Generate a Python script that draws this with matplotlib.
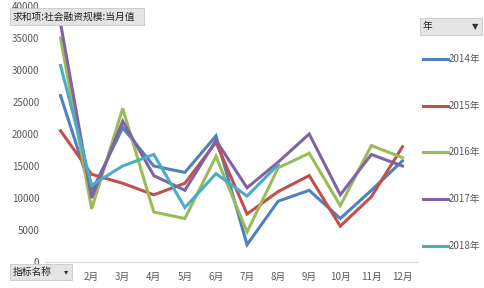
import matplotlib.pyplot as plt
from matplotlib.patches import FancyBboxPatch

plt.rcParams['font.family'] = ['Noto Sans CJK SC', 'DejaVu Sans']

# 社会融资规模 当月值 (亿元)
months = ['1月', '2月', '3月', '4月', '5月', '6月', '7月', '8月', '9月', '10月', '11月', '12月']
y2014 = [26000, 11000, 21000, 15000, 14000, 19700, 2700, 9500, 11200, 6800, 11200, 15800]
y2015 = [20500, 13700, 12300, 10500, 12300, 18700, 7500, 11000, 13500, 5600, 10200, 18000]
y2016 = [35000, 8300, 24000, 7800, 6800, 16500, 4700, 14700, 17000, 8800, 18200, 16300]
y2017 = [37300, 10000, 22000, 13500, 11200, 19000, 11600, 15600, 20000, 10500, 16800, 15000]
y2018 = [30700, 12000, 15000, 16800, 8500, 13800, 10300, 15200]
series_names = ['2014年', '2015年', '2016年', '2017年', '2018年']
colors = ['#4F81BD', '#C0504D', '#9BBB59', '#8064A2', '#4BACC6']

fig = plt.figure(figsize=(4.85, 2.88), dpi=100)
ax = fig.add_axes([45 / 485, 1 - 262 / 288, (418 - 45) / 485, (262 - 6) / 288])

all_series = [y2014, y2015, y2016, y2017, y2018]
x = list(range(len(months)))
for vals, name, c in zip(all_series, series_names, colors):
    ax.plot(x[:len(vals)], vals, color=c, lw=2.2, label=name, solid_joinstyle='miter')

ax.set_xlim(-0.5, len(months) - 0.5)
ax.set_ylim(0, 40000)
ax.set_yticks(range(0, 40001, 5000))
ax.set_xticks(x)
ax.set_xticklabels(months)
ax.tick_params(axis='both', length=0, labelsize=7, colors='#595959')
ax.tick_params(axis='y', pad=4)
ax.tick_params(axis='x', pad=7)
for s in ['top', 'right', 'left']:
    ax.spines[s].set_visible(False)
ax.spines['bottom'].set_color('#D9D9D9')

# legend on the right, one entry per row
leg_y = [59, 106, 152, 199, 246]
for name, c, py in zip(series_names, colors, leg_y):
    fy = 1 - py / 288
    fig.add_artist(plt.Line2D([423 / 485, 448 / 485], [fy, fy], color=c, lw=2.2))
    fig.text(449 / 485, fy, name, fontsize=7, color='#595959', va='center', ha='left')

# pivot field buttons
def button(x0, y0, w, h, label, arrow=None):
    box = FancyBboxPatch((x0 / 485, 1 - (y0 + h) / 288), w / 485, h / 288,
                         boxstyle='square,pad=0', transform=fig.transFigure,
                         facecolor='#E4E4E4', edgecolor='#C8C8C8', lw=0.6, zorder=5)
    fig.add_artist(box)
    fig.text((x0 + 3) / 485, 1 - (y0 + h / 2) / 288, label, fontsize=7, color='#222222',
             va='center', ha='left', zorder=6)
    if arrow:
        fig.text((x0 + w - 4) / 485, 1 - (y0 + h / 2) / 288, arrow, fontsize=6, color='#333333',
                 va='center', ha='right', zorder=6, family='DejaVu Sans')

button(10, 8, 134, 17, '求和项:社会融资规模:当月值')
button(10, 264, 62, 16, '指标名称', '▾')
button(420, 18, 62, 17, '年', '▼')

fig.savefig('out.png', dpi=100, facecolor='white')
